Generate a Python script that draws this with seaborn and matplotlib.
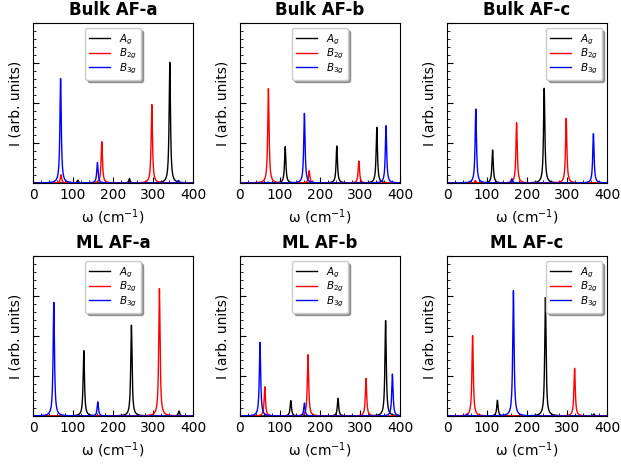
import numpy as np
import pandas as pd
import matplotlib
matplotlib.use("Agg")
import matplotlib.pyplot as plt
from matplotlib.ticker import MultipleLocator
import seaborn as sns

plt.rcParams['font.family'] = ['DejaVu Sans']

# Panel titles
titles = ["Bulk AF-a", "Bulk AF-b", "Bulk AF-c", "ML AF-a", "ML AF-b", "ML AF-c"]
modes = ["$A_g$", "$B_{2g}$", "$B_{3g}$"]
mode_colors = ["black", "red", "blue"]

# Peak positions (cm^-1) and relative intensities, per panel, per mode
bulk_a_Ag_pos = [112, 241, 342]
bulk_a_Ag_int = [0.017, 0.027, 0.754]
bulk_a_B2g_pos = [70, 172, 297]
bulk_a_B2g_int = [0.052, 0.258, 0.49]
bulk_a_B3g_pos = [69, 161, 364]
bulk_a_B3g_int = [0.652, 0.127, 0.015]

bulk_b_Ag_pos = [113, 242, 342]
bulk_b_Ag_int = [0.227, 0.231, 0.348]
bulk_b_B2g_pos = [71, 173, 297]
bulk_b_B2g_int = [0.59, 0.077, 0.137]
bulk_b_B3g_pos = [70, 161, 365]
bulk_b_B3g_int = [0.005, 0.435, 0.358]

bulk_c_Ag_pos = [114, 243]
bulk_c_Ag_int = [0.206, 0.592]
bulk_c_B2g_pos = [71, 174, 298]
bulk_c_B2g_int = [0.015, 0.377, 0.404]
bulk_c_B3g_pos = [72, 162, 366]
bulk_c_B3g_int = [0.462, 0.027, 0.308]

ml_a_Ag_pos = [127, 246, 365]
ml_a_Ag_int = [0.408, 0.567, 0.031]
ml_a_B2g_pos = [316]
ml_a_B2g_int = [0.796]
ml_a_B3g_pos = [52, 162]
ml_a_B3g_int = [0.71, 0.088]

ml_b_Ag_pos = [127, 245, 364]
ml_b_Ag_int = [0.096, 0.11, 0.596]
ml_b_B2g_pos = [62, 170, 315]
ml_b_B2g_int = [0.183, 0.383, 0.235]
ml_b_B3g_pos = [50, 161, 381]
ml_b_B3g_int = [0.46, 0.081, 0.262]

ml_c_Ag_pos = [126, 246, 367]
ml_c_Ag_int = [0.098, 0.74, 0.0125]
ml_c_B2g_pos = [64, 319]
ml_c_B2g_int = [0.502, 0.298]
ml_c_B3g_pos = [50, 166]
ml_c_B3g_int = [0.0125, 0.783]

panels = [
    [(bulk_a_Ag_pos, bulk_a_Ag_int), (bulk_a_B2g_pos, bulk_a_B2g_int), (bulk_a_B3g_pos, bulk_a_B3g_int)],
    [(bulk_b_Ag_pos, bulk_b_Ag_int), (bulk_b_B2g_pos, bulk_b_B2g_int), (bulk_b_B3g_pos, bulk_b_B3g_int)],
    [(bulk_c_Ag_pos, bulk_c_Ag_int), (bulk_c_B2g_pos, bulk_c_B2g_int), (bulk_c_B3g_pos, bulk_c_B3g_int)],
    [(ml_a_Ag_pos, ml_a_Ag_int), (ml_a_B2g_pos, ml_a_B2g_int), (ml_a_B3g_pos, ml_a_B3g_int)],
    [(ml_b_Ag_pos, ml_b_Ag_int), (ml_b_B2g_pos, ml_b_B2g_int), (ml_b_B3g_pos, ml_b_B3g_int)],
    [(ml_c_Ag_pos, ml_c_Ag_int), (ml_c_B2g_pos, ml_c_B2g_int), (ml_c_B3g_pos, ml_c_B3g_int)],
]
legend_locs = ["upper center", "upper center", "upper right",
               "upper center", "upper center", "upper right"]

hwhm = 2.0  # Lorentzian broadening
omega = np.linspace(0, 400, 4001)


def spectrum(pos, inten):
    y = np.zeros_like(omega)
    for p, a in zip(pos, inten):
        y += a * hwhm**2 / ((omega - p) ** 2 + hwhm**2)
    return y


fig = plt.figure(figsize=(6.21, 4.68), dpi=100)
lefts = [33 / 621, 240 / 621, 447 / 621]
bottoms = [1 - 183 / 468, 1 - 416 / 468]
w = 160 / 621
h = 160 / 468

for i, (title, series) in enumerate(zip(titles, panels)):
    r, c = divmod(i, 3)
    ax = fig.add_axes([lefts[c], bottoms[r], w, h])
    for (pos, inten), lab, col in zip(series, modes, mode_colors):
        df = pd.DataFrame({"omega": omega, "I": spectrum(pos, inten)})
        sns.lineplot(data=df, x="omega", y="I", color=col, label=lab,
                     linewidth=1.0, ax=ax)
    ax.set_xlim(0, 400)
    ax.set_ylim(0, 1)
    ax.xaxis.set_major_locator(MultipleLocator(100))
    ax.xaxis.set_minor_locator(MultipleLocator(20))
    ax.yaxis.set_major_locator(MultipleLocator(0.25))
    ax.yaxis.set_minor_locator(MultipleLocator(0.05))
    ax.tick_params(which="both", direction="in", left=True, bottom=True,
                   top=False, right=False, labelsize=10)
    ax.tick_params(which="major", length=4)
    ax.tick_params(which="minor", length=2)
    ax.set_yticklabels([])
    ax.set_title(title, fontsize=12, fontweight="bold")
    ax.set_xlabel(r"ω (cm$^{-1}$)", fontsize=10)
    ax.set_ylabel("I (arb. units)", fontsize=10)
    ax.legend(loc=legend_locs[i], fontsize=7.5, labelspacing=0.0,
              shadow=True, framealpha=1)

fig.savefig("out.png", dpi=100)
